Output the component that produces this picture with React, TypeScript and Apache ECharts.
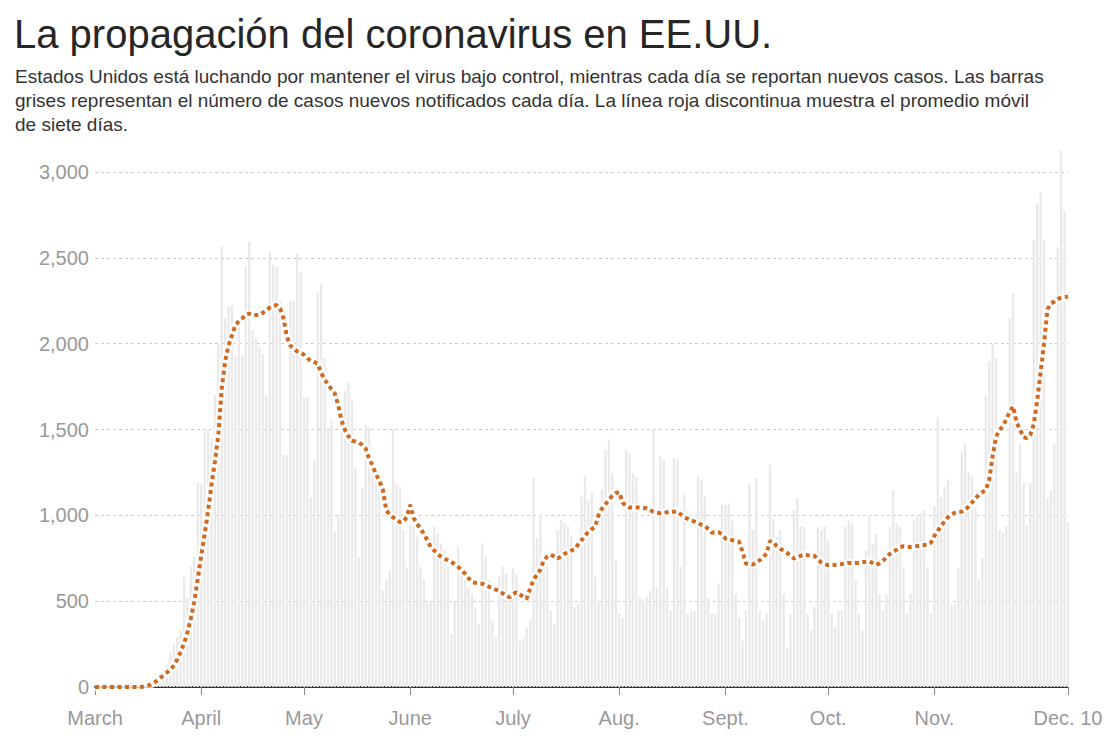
import React, { useEffect, useRef } from "react";
import * as echarts from "echarts";

const TITLE = "La propagación del coronavirus en EE.UU.";
const SUBTITLE_LINES = [
  "Estados Unidos está luchando por mantener el virus bajo control, mientras cada día se reportan nuevos casos. Las barras",
  "grises representan el número de casos nuevos notificados cada día. La línea roja discontinua muestra el promedio móvil",
  "de siete días.",
];

// day index 0 = March 1
const MONTH_TICK_DAYS = [0, 31, 61, 92, 122, 153, 184, 214, 245, 284];
const MONTH_TICK_LABELS = ["March", "April", "May", "June", "July", "Aug.", "Sept.", "Oct.", "Nov.", "Dec. 10"];

const Y_MIN = 0;
const Y_MAX = 3000;
const Y_STEP = 500;

// daily new cases (grey bars), one value per day from March 1
const dailyCases = [
  0, 0, 0, 0, 0, 0, 1, 1, 2, 3,
  5, 6, 8, 12, 15, 22, 30, 45, 60, 80,
  100, 130, 200, 250, 290, 330, 640, 520, 700, 760,
  1190, 1180, 1490, 1500, 1450, 1700, 2000, 2564, 2147, 2215,
  2225, 1934, 2100, 1930, 2448, 2593, 2080, 2030, 1980, 1940,
  1700, 2535, 2457, 2448, 2250, 1350, 1350, 2250, 2250, 2525,
  2419, 1686, 1690, 1105, 1318, 2297, 2345, 1919, 1512, 1550,
  901, 1008, 1600, 1725, 1773, 1667, 1279, 756, 1163, 1521,
  1512, 1318, 1202, 1182, 562, 620, 678, 1502, 1182, 1163,
  911, 698, 953, 953, 875, 699, 621, 484, 504, 934,
  895, 836, 797, 699, 309, 504, 816, 699, 660, 582,
  543, 465, 367, 836, 758, 621, 387, 289, 641, 699,
  660, 523, 690, 660, 270, 280, 348, 387, 1217, 865,
  1002, 748, 699, 445, 367, 914, 973, 953, 934, 875,
  465, 484, 1109, 1227, 1090, 1129, 641, 504, 1150, 1383,
  1441, 1246, 738, 426, 406, 1383, 1363, 1246, 1227, 523,
  504, 523, 562, 1500, 582, 1344, 1324, 582, 445, 1334,
  1324, 699, 1129, 426, 445, 445, 1227, 1207, 1109, 523,
  426, 426, 602, 1061, 1061, 1070, 973, 543, 406, 270,
  445, 1178, 914, 1217, 445, 387, 426, 1295, 982, 875,
  914, 543, 230, 426, 1031, 1100, 934, 934, 426, 328,
  465, 934, 914, 934, 855, 426, 348, 445, 445, 934,
  973, 953, 621, 426, 328, 797, 992, 836, 895, 543,
  445, 543, 934, 1148, 953, 934, 699, 426, 543, 973,
  992, 1011, 1031, 699, 426, 1050, 1573, 1104, 1167, 1208,
  479, 479, 688, 1375, 1417, 1250, 1229, 1042, 625, 750,
  1698, 1896, 2000, 1917, 917, 896, 938, 2146, 2292, 1250,
  1417, 1188, 938, 1188, 2604, 2813, 2885, 2604, 1104, 1146,
  1417, 2563, 3125, 2771, 960,
];

// seven-day moving average (dashed line), one value per day from March 1
const sevenDayAvg = [
  0, 0, 0, 0, 0, 0, 0, 0, 0, 0,
  0, 0, 0, 0, 1, 5, 12, 22, 35, 52,
  68, 85, 100, 125, 160, 205, 255, 320, 400, 500,
  630, 765, 890, 1025, 1178, 1314, 1469, 1740, 1900, 1990,
  2050, 2109, 2130, 2147, 2170, 2175, 2167, 2167, 2167, 2180,
  2195, 2210, 2220, 2225, 2205, 2150, 2041, 1990, 1970, 1955,
  1948, 1935, 1915, 1900, 1892, 1884, 1831, 1790, 1765, 1735,
  1710, 1640, 1550, 1495, 1460, 1434, 1430, 1424, 1410, 1390,
  1330, 1290, 1240, 1200, 1150, 1030, 1005, 988, 975, 960,
  963, 990, 1061, 985, 950, 924, 890, 855, 815, 795,
  775, 760, 748, 738, 728, 715, 700, 680, 660, 635,
  612, 607, 604, 602, 592, 584, 575, 567, 560, 545,
  532, 523, 540, 553, 540, 525, 514, 572, 625, 655,
  684, 738, 760, 771, 760, 748, 760, 775, 785, 795,
  803, 830, 855, 880, 904, 920, 934, 1002, 1040, 1065,
  1090, 1115, 1130, 1135, 1074, 1055, 1045, 1045, 1045, 1045,
  1043, 1041, 1030, 1021, 1015, 1012, 1015, 1018, 1021, 1021,
  1021, 1005, 990, 980, 970, 963, 955, 945, 939, 920,
  900, 900, 902, 890, 865, 862, 855, 850, 846, 787,
  719, 715, 713, 725, 738, 755, 777, 850, 845, 820,
  805, 795, 781, 765, 748, 755, 765, 771, 768, 766,
  764, 745, 725, 715, 710, 709, 711, 713, 716, 720,
  723, 723, 723, 723, 727, 730, 732, 722, 712, 720,
  735, 755, 775, 787, 800, 815, 820, 818, 816, 818,
  821, 825, 827, 829, 840, 880, 910, 938, 965, 990,
  1005, 1015, 1021, 1021, 1035, 1050, 1075, 1100, 1120, 1135,
  1146, 1208, 1344, 1458, 1495, 1521, 1560, 1604, 1635, 1540,
  1500, 1455, 1450, 1469, 1530, 1667, 1833, 2000, 2200, 2235,
  2245, 2260, 2268, 2271, 2275,
];

const FONT = "'Liberation Sans', Arial, Helvetica, sans-serif";

export default function App() {
  const ref = useRef<HTMLDivElement>(null);

  useEffect(() => {
    if (!ref.current) return;
    const chart = echarts.init(ref.current, null, { renderer: "svg" });
    const barData = dailyCases.map((v, i) => [i, v]);
    const lineData = sevenDayAvg.map((v, i) => [i, v]);

    chart.setOption({
      animation: false,
      backgroundColor: "#ffffff",
      textStyle: { fontFamily: FONT },
      graphic: [
        {
          type: "text",
          x: 14,
          y: 34,
          style: {
            text: TITLE,
            fontSize: 40,
            fontFamily: FONT,
            fill: "#262626",
            verticalAlign: "middle",
            align: "left",
          },
        },
        ...SUBTITLE_LINES.map((line, i) => ({
          type: "text",
          x: 15,
          y: 76 + i * 24,
          style: {
            text: line,
            fontSize: 19,
            fontFamily: FONT,
            fill: "#333333",
            verticalAlign: "middle",
            align: "left",
          },
        })),
      ],
      grid: { left: 95, right: 42, top: 172, bottom: 62, containLabel: false },
      xAxis: {
        type: "value",
        min: 0,
        max: MONTH_TICK_DAYS[MONTH_TICK_DAYS.length - 1],
        splitLine: { show: false },
        axisLine: { show: true, lineStyle: { color: "#333333", width: 2 } },
        axisTick: {
          show: true,
          customValues: MONTH_TICK_DAYS,
          length: 8,
          lineStyle: { color: "#888888", width: 1 },
        },
        axisLabel: {
          customValues: MONTH_TICK_DAYS,
          formatter: (v: number) => {
            const idx = MONTH_TICK_DAYS.indexOf(Math.round(v));
            return idx >= 0 ? MONTH_TICK_LABELS[idx] : "";
          },
          color: "#999999",
          fontSize: 20,
          fontFamily: FONT,
          margin: 21,
        },
      },
      yAxis: {
        type: "value",
        min: Y_MIN,
        max: Y_MAX,
        interval: Y_STEP,
        axisLine: { show: false },
        axisTick: { show: false },
        axisLabel: {
          color: "#999999",
          fontSize: 20,
          fontFamily: FONT,
          margin: 6,
          formatter: (v: number) => v.toLocaleString("en-US"),
        },
        splitLine: { show: true, lineStyle: { color: "#cccccc", width: 1, type: [3, 3] } },
      },
      series: [
        {
          type: "bar",
          data: barData,
          barWidth: 2.3,
          clip: false,
          itemStyle: { color: "#e9e9e9" },
          silent: true,
          z: 1,
        },
        {
          type: "line",
          data: lineData,
          showSymbol: false,
          silent: true,
          lineStyle: { color: "#ffffff", width: 8, opacity: 0.75 },
          z: 3,
        },
        {
          type: "line",
          data: lineData,
          showSymbol: false,
          silent: true,
          lineStyle: { color: "#cf6a22", width: 4, type: [4, 3.5], cap: "butt" },
          z: 4,
        },
      ],
    });

    return () => chart.dispose();
  }, []);

  return (
    <div
      ref={ref}
      style={{ position: "fixed", left: 0, top: 0, width: 1110, height: 749, background: "#ffffff" }}
    />
  );
}
